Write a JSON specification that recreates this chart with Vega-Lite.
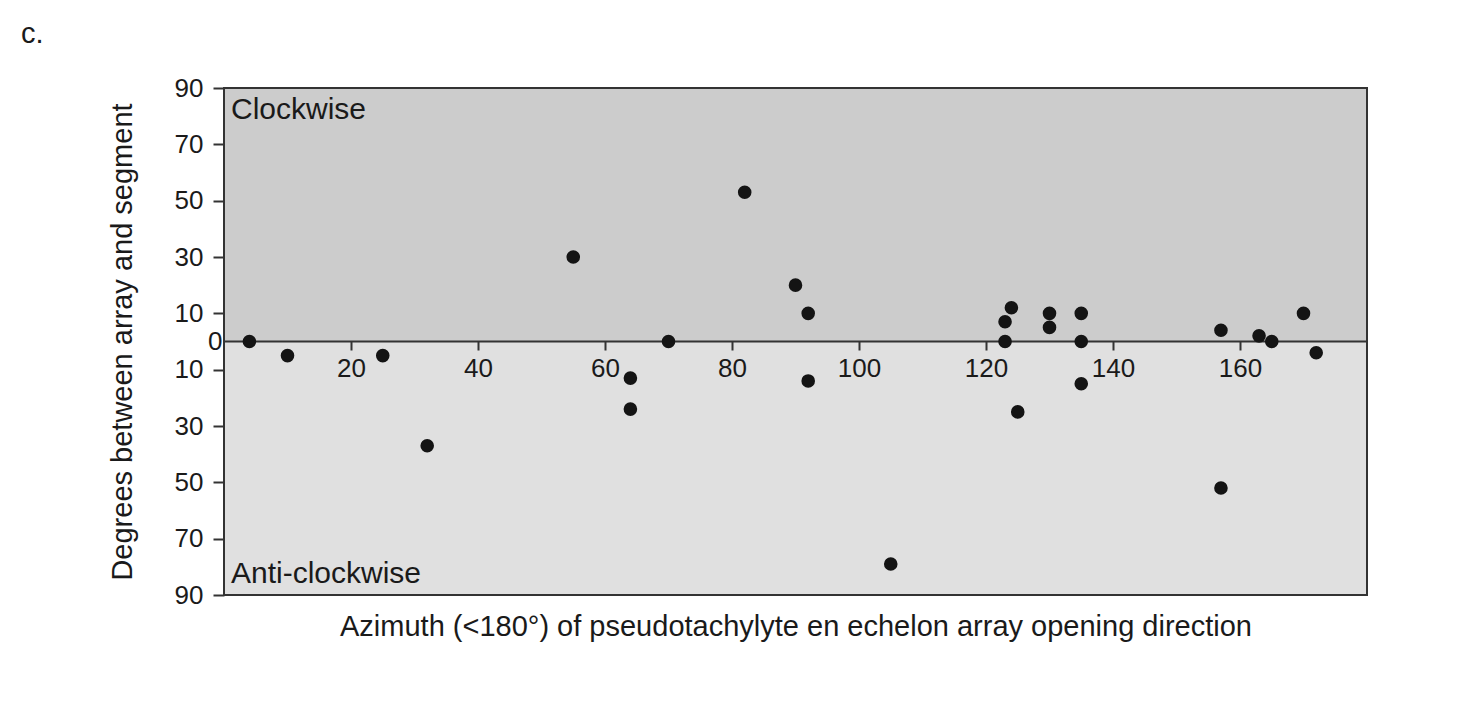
{
  "$schema": "https://vega.github.io/schema/vega-lite/v6.json",
  "width": 1143,
  "height": 507,
  "autosize": "none",
  "padding": {"left": 224, "top": 88, "right": 92, "bottom": 132},
  "background": "white",
  "config": {
    "view": {"stroke": null},
    "font": "Liberation Sans",
    "axis": {"labelFont": "Liberation Sans", "titleFont": "Liberation Sans", "labelColor": "#1a1a1a", "titleColor": "#1a1a1a", "titleFontWeight": "normal", "grid": false}
  },
  "title": {
    "text": "c.",
    "anchor": "start",
    "frame": "group",
    "dx": -203,
    "offset": 26,
    "fontSize": 29,
    "fontWeight": "normal",
    "font": "Liberation Sans",
    "color": "#1a1a1a"
  },
  "datasets": {
    "bands": [
      {"x1": 0, "x2": 180, "y1": 0, "y2": 90, "region": "Clockwise"},
      {"x1": 0, "x2": 180, "y1": -90, "y2": 0, "region": "Anti-clockwise"}
    ],
    "frame": [
      {"x1": 0, "x2": 180, "y1": -90, "y2": 90}
    ],
    "points": [
      {"azimuth": 4, "degrees": 0},
      {"azimuth": 10, "degrees": -5},
      {"azimuth": 25, "degrees": -5},
      {"azimuth": 32, "degrees": -37},
      {"azimuth": 55, "degrees": 30},
      {"azimuth": 64, "degrees": -13},
      {"azimuth": 64, "degrees": -24},
      {"azimuth": 70, "degrees": 0},
      {"azimuth": 82, "degrees": 53},
      {"azimuth": 90, "degrees": 20},
      {"azimuth": 92, "degrees": 10},
      {"azimuth": 92, "degrees": -14},
      {"azimuth": 105, "degrees": -79},
      {"azimuth": 123, "degrees": 0},
      {"azimuth": 123, "degrees": 7},
      {"azimuth": 124, "degrees": 12},
      {"azimuth": 125, "degrees": -25},
      {"azimuth": 130, "degrees": 10},
      {"azimuth": 130, "degrees": 5},
      {"azimuth": 135, "degrees": 10},
      {"azimuth": 135, "degrees": 0},
      {"azimuth": 135, "degrees": -15},
      {"azimuth": 157, "degrees": 4},
      {"azimuth": 157, "degrees": -52},
      {"azimuth": 163, "degrees": 2},
      {"azimuth": 165, "degrees": 0},
      {"azimuth": 170, "degrees": 10},
      {"azimuth": 172, "degrees": -4}
    ]
  },
  "resolve": {"axis": {"x": "independent", "y": "independent"}},
  "layer": [
    {
      "data": {"name": "bands"},
      "mark": {"type": "rect"},
      "encoding": {
        "x": {"field": "x1", "type": "quantitative", "scale": {"domain": [0, 180], "nice": false, "zero": false},
          "axis": {"orient": "bottom", "title": "Azimuth (<180°) of pseudotachylyte en echelon array opening direction", "labels": false, "ticks": false, "domain": false, "titleFontSize": 29, "titlePadding": 17}},
        "x2": {"field": "x2"},
        "y": {"field": "y1", "type": "quantitative", "scale": {"domain": [-90, 90], "nice": false, "zero": false},
          "axis": {"orient": "left", "values": [-90, -70, -50, -30, -10, 10, 30, 50, 70, 90], "labelExpr": "'' + abs(datum.value)", "domain": false, "tickSize": 11, "tickWidth": 2, "tickColor": "#333333",
            "labelPadding": 10,
            "labelFontSize": 26, "title": "Degrees between array and segment", "titleFontSize": 29, "titlePadding": 37}},
        "y2": {"field": "y2"},
        "color": {"field": "region", "type": "nominal", "scale": {"domain": ["Clockwise", "Anti-clockwise"], "range": ["#cccccc", "#e0e0e0"]}, "legend": null}
      }
    },
    {
      "data": {"values": [{"zero": 0}]},
      "mark": {"type": "rule", "color": "#333333", "strokeWidth": 2},
      "encoding": {
        "y": {"field": "zero", "type": "quantitative", "axis": null}
      }
    },
    {
      "data": {"name": "bands"},
      "transform": [{"filter": "datum.region === 'Clockwise'"}],
      "mark": {"type": "text", "align": "left", "baseline": "top", "dx": 7, "dy": 7, "fontSize": 30, "font": "Liberation Sans", "color": "#1a1a1a"},
      "encoding": {
        "x": {"field": "x1", "type": "quantitative", "axis": null},
        "y": {"field": "y2", "type": "quantitative", "axis": null},
        "text": {"field": "region"}
      }
    },
    {
      "data": {"name": "bands"},
      "transform": [{"filter": "datum.region === 'Anti-clockwise'"}],
      "mark": {"type": "text", "align": "left", "baseline": "alphabetic", "dx": 7, "dy": -12, "fontSize": 30, "font": "Liberation Sans", "color": "#1a1a1a"},
      "encoding": {
        "x": {"field": "x1", "type": "quantitative", "axis": null},
        "y": {"field": "y1", "type": "quantitative", "axis": null},
        "text": {"field": "region"}
      }
    },
    {
      "data": {"name": "points"},
      "mark": {"type": "point", "filled": true, "shape": "circle", "size": 185, "color": "#141414", "opacity": 1},
      "encoding": {
        "x": {"field": "azimuth", "type": "quantitative",
          "axis": {"orient": "bottom", "offset": -254, "values": [20, 40, 60, 80, 100, 120, 140, 160], "domain": false, "ticks": true, "tickSize": 9, "tickWidth": 2, "tickColor": "#333333", "labelFontSize": 26, "labelPadding": 5, "title": null, "zindex": 1}},
        "y": {"field": "degrees", "type": "quantitative",
          "axis": {"orient": "left", "values": [0], "ticks": false, "domain": false, "labelPadding": 2, "labelFontSize": 26, "title": null, "zindex": 1}}
      }
    },
    {
      "data": {"name": "frame"},
      "mark": {"type": "rect", "fillOpacity": 0, "stroke": "#333333", "strokeWidth": 2},
      "encoding": {
        "x": {"field": "x1", "type": "quantitative", "axis": null},
        "x2": {"field": "x2"},
        "y": {"field": "y1", "type": "quantitative", "axis": null},
        "y2": {"field": "y2"}
      }
    }
  ]
}
